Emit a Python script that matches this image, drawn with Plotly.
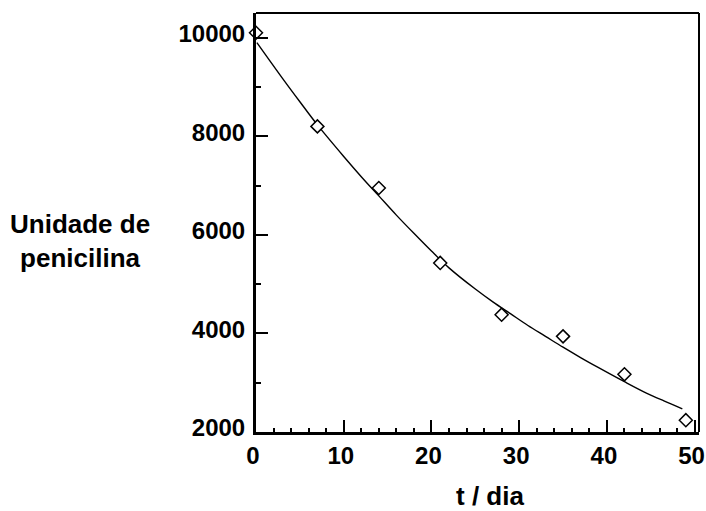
import plotly.graph_objects as go

# Measured data points (open diamonds)
t_days = [0, 7, 14, 21, 28, 35, 42, 49]
units = [10100, 8200, 6950, 5430, 4380, 3940, 3170, 2240]

# Fitted curve
curve_t = [0.1, 3, 5, 7, 10, 12, 14, 16, 18, 20, 22, 25, 27, 29, 31, 33, 35, 37, 39, 42, 44.5, 46.5, 48.6]
curve_units = [9900, 9180, 8700, 8230, 7590, 7180, 6790, 6400, 6030, 5670, 5330, 4900, 4640,
               4400, 4160, 3940, 3720, 3510, 3310, 3020, 2790, 2630, 2470]

x_ticks = [0, 10, 20, 30, 40, 50]
y_ticks = [2000, 4000, 6000, 8000, 10000]

FONT = "Liberation Sans, Arial, sans-serif"

fig = go.Figure()
fig.add_trace(go.Scatter(x=curve_t, y=curve_units, mode="lines",
                         line=dict(color="black", width=1.4, shape="spline"),
                         showlegend=False, hoverinfo="skip"))
fig.add_trace(go.Scatter(x=t_days, y=units, mode="markers",
                         marker=dict(symbol="diamond", size=10, color="white",
                                     line=dict(color="black", width=1.5)),
                         cliponaxis=False, showlegend=False))

axis_common = dict(showgrid=False, zeroline=False, showline=True, linecolor="black",
                   linewidth=3, ticks="inside", ticklen=12, tickwidth=1.5, tickcolor="black",
                   tickfont=dict(family=FONT, size=24, color="black", weight="bold"),
                   automargin=False, ticklabeloverflow="allow")

fig.update_xaxes(range=[0, 50.5], tickvals=x_ticks, ticktext=[str(v) for v in x_ticks],
                 minor=dict(dtick=2, ticklen=4, ticks="inside", tickwidth=1.5, tickcolor="black"),
                 ticklabelstandoff=0, ticklabelshift=-3, **axis_common)
fig.update_yaxes(range=[2000, 10500], tickvals=y_ticks, ticktext=[str(v) for v in y_ticks],
                 minor=dict(dtick=1000, ticklen=5, ticks="inside", tickwidth=1.5, tickcolor="black"),
                 ticklabelstandoff=3, ticklabelshift=-4, **axis_common)

# thinner top and right frame lines
fig.add_shape(type="line", xref="paper", yref="paper", x0=0, x1=1, y0=1, y1=1,
              line=dict(color="black", width=2))
fig.add_shape(type="line", xref="paper", yref="paper", x0=1, x1=1, y0=0, y1=1,
              line=dict(color="black", width=2))

fig.add_annotation(text="Unidade de<br>penicilina", xref="paper", yref="paper",
                   x=-0.397, y=0.455, xanchor="center", yanchor="middle",
                   showarrow=False, align="center",
                   font=dict(family=FONT, size=26, color="black", weight="bold"))
fig.add_annotation(text="t / dia", xref="paper", yref="paper",
                   x=0.528, y=-0.153, xanchor="center", yanchor="middle", showarrow=False,
                   font=dict(family=FONT, size=26, color="black", weight="bold"))

fig.update_layout(width=706, height=511, plot_bgcolor="white", paper_bgcolor="white",
                  margin=dict(l=256, r=7, t=13, b=79))

fig.write_html("out.html", config={"displayModeBar": False},
               post_script="document.body.style.margin='0';document.body.style.overflow='hidden';")
